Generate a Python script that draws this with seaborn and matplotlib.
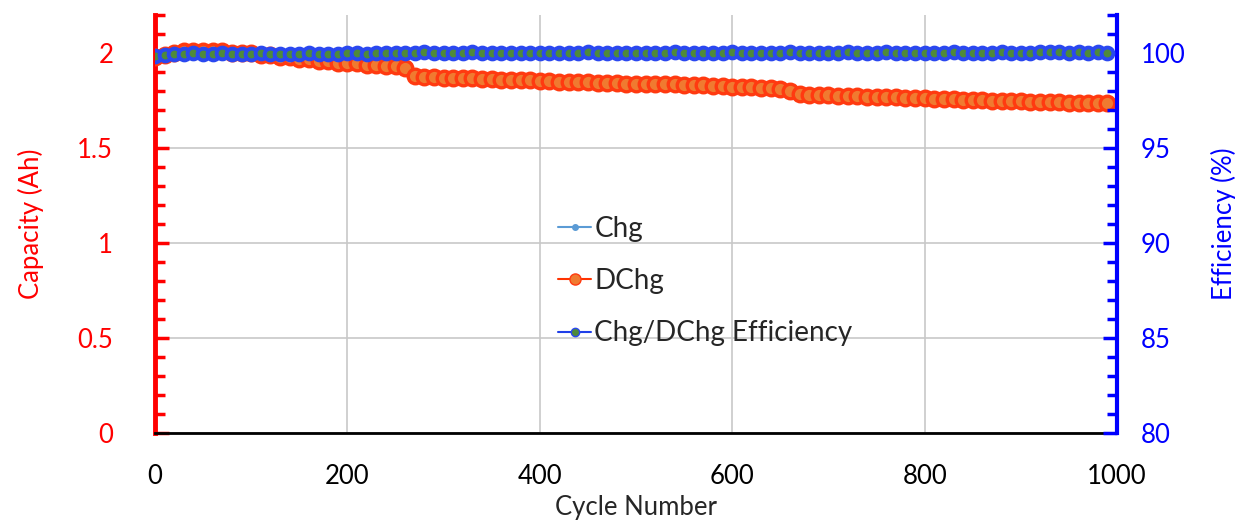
import numpy as np
import pandas as pd
import seaborn as sns
import matplotlib.pyplot as plt
from matplotlib.lines import Line2D
from matplotlib.ticker import MultipleLocator

# cycle numbers (every 10th cycle)
cycles = list(range(0, 1000, 10))

dchg_cap = [
    1.98, 1.99, 2.00, 2.01, 2.01, 2.01, 2.01, 2.01, 2.00, 2.00,
    2.00, 1.99, 1.99, 1.98, 1.98, 1.97, 1.97, 1.96, 1.96, 1.95,
    1.95, 1.95, 1.94, 1.94, 1.93, 1.93, 1.92, 1.88, 1.875, 1.875,
    1.87, 1.87, 1.87, 1.87, 1.865, 1.865, 1.86, 1.86, 1.86, 1.86,
    1.855, 1.855, 1.85, 1.85, 1.85, 1.85, 1.845, 1.845, 1.845, 1.84,
    1.84, 1.84, 1.84, 1.835, 1.835, 1.83, 1.83, 1.83, 1.825, 1.825,
    1.82, 1.82, 1.82, 1.815, 1.815, 1.81, 1.80, 1.785, 1.78, 1.78,
    1.78, 1.775, 1.775, 1.775, 1.77, 1.77, 1.77, 1.77, 1.765, 1.765,
    1.765, 1.76, 1.76, 1.76, 1.755, 1.755, 1.755, 1.75, 1.75, 1.75,
    1.75, 1.745, 1.745, 1.745, 1.745, 1.74, 1.74, 1.74, 1.74, 1.74,
]

chg_cap = [
    1.98, 1.99, 2.00, 2.01, 2.01, 2.01, 2.01, 2.00, 2.00, 2.00,
    2.00, 1.99, 1.99, 1.98, 1.98, 1.97, 1.97, 1.96, 1.96, 1.95,
    1.95, 1.95, 1.94, 1.94, 1.93, 1.93, 1.92, 1.88, 1.875, 1.875,
    1.87, 1.87, 1.87, 1.865, 1.865, 1.865, 1.86, 1.86, 1.86, 1.86,
    1.855, 1.855, 1.85, 1.85, 1.85, 1.85, 1.845, 1.845, 1.84, 1.84,
    1.84, 1.84, 1.84, 1.835, 1.835, 1.83, 1.83, 1.83, 1.825, 1.825,
    1.82, 1.82, 1.82, 1.815, 1.815, 1.81, 1.80, 1.785, 1.78, 1.78,
    1.78, 1.775, 1.775, 1.77, 1.77, 1.77, 1.77, 1.77, 1.765, 1.765,
    1.765, 1.76, 1.76, 1.76, 1.755, 1.755, 1.755, 1.75, 1.75, 1.75,
    1.75, 1.745, 1.745, 1.745, 1.74, 1.74, 1.74, 1.74, 1.74, 1.74,
]

efficiency = [
    99.85, 99.9, 99.95, 99.95, 100.0, 99.95, 99.95, 100.0, 99.95, 99.95,
    99.95, 100.0, 99.95, 99.95, 99.95, 99.95, 100.0, 99.95, 99.95, 99.95,
    100.0, 100.0, 99.95, 100.0, 100.0, 100.0, 100.0, 100.0, 100.05, 100.0,
    100.0, 100.0, 100.0, 100.05, 100.0, 100.0, 100.0, 100.0, 100.0, 100.0,
    100.0, 100.0, 100.0, 100.0, 100.0, 100.05, 100.0, 100.0, 100.0, 100.0,
    100.0, 100.0, 100.0, 100.0, 100.05, 100.0, 100.0, 100.0, 100.0, 100.0,
    100.05, 100.0, 100.0, 100.0, 100.0, 100.0, 100.05, 100.0, 100.0, 100.0,
    100.0, 100.0, 100.05, 100.0, 100.0, 100.0, 100.05, 100.0, 100.0, 100.0,
    100.0, 100.0, 100.0, 100.05, 100.0, 100.0, 100.0, 100.0, 100.05, 100.0,
    100.0, 100.0, 100.05, 100.05, 100.05, 100.0, 100.05, 100.0, 100.05, 100.0,
]

cap_ticks = [0, 0.5, 1, 1.5, 2]
eff_ticks = [80, 85, 90, 95, 100]
x_ticks = [0, 200, 400, 600, 800, 1000]

df = pd.DataFrame({"Cycle": cycles, "Chg": chg_cap, "DChg": dchg_cap,
                   "Eff": efficiency})

sns.set_style("white")
plt.rcParams["font.family"] = ["Lato", "DejaVu Sans"]

fig = plt.figure(figsize=(12.35, 5.22), dpi=100)
ax = fig.add_axes([0.1255, 0.1705, 0.779, 0.8005])
ax2 = ax.twinx()

RED = "#ff0000"
BLUE = "#0000ff"

sns.lineplot(data=df, x="Cycle", y="Chg", ax=ax, color="#5b9bd5",
             marker="o", markersize=4, linewidth=1.5, zorder=2)
sns.lineplot(data=df, x="Cycle", y="DChg", ax=ax, color="#ff3300",
             marker="o", markersize=10.5, markerfacecolor="#f07a30",
             markeredgecolor="#ff3a10", markeredgewidth=2.4,
             linewidth=6, zorder=3)
sns.lineplot(data=df, x="Cycle", y="Eff", ax=ax2, color="#1f3fe8",
             marker="o", markersize=8.5, markerfacecolor="#4f8a3a",
             markeredgecolor="#2a48f0", markeredgewidth=2.8,
             linewidth=6, zorder=3)

ax.set_xlim(0, 1000)
ax.set_ylim(0, 2.2)
ax2.set_ylim(80, 102)
ax.set_xticks(x_ticks)
ax.set_yticks(cap_ticks)
ax.set_yticklabels(["0", "0.5", "1", "1.5", "2"])
ax2.set_yticks(eff_ticks)
ax.xaxis.set_minor_locator(MultipleLocator(40))
ax.yaxis.set_minor_locator(MultipleLocator(0.1))
ax2.yaxis.set_minor_locator(MultipleLocator(1))

ax.grid(True, which="major", color="#c8c8c8", linewidth=1.2)
ax.set_axisbelow(True)
ax2.grid(False)

for a in (ax, ax2):
    a.spines["top"].set_visible(False)
ax.spines["right"].set_visible(False)
ax.spines["left"].set_color(RED)
ax.spines["left"].set_linewidth(3.5)
ax.spines["bottom"].set_color("black")
ax.spines["bottom"].set_linewidth(2)
ax2.spines["left"].set_visible(False)
ax2.spines["bottom"].set_visible(False)
ax2.spines["right"].set_color(BLUE)
ax2.spines["right"].set_linewidth(3)

ax.tick_params(axis="x", which="both", direction="in", colors="black",
               labelsize=18.5, pad=22, width=2)
ax.tick_params(axis="x", which="major", length=9)
ax.tick_params(axis="x", which="minor", length=7)
ax.tick_params(axis="y", which="both", direction="in", colors=RED,
               labelsize=18.5, pad=30, width=2.5)
ax.tick_params(axis="y", which="major", length=10)
ax.tick_params(axis="y", which="minor", length=7)
ax2.tick_params(axis="y", which="both", direction="in", colors=BLUE,
                labelsize=18.5, pad=17, width=2.5)
ax2.tick_params(axis="y", which="major", length=10)
ax2.tick_params(axis="y", which="minor", length=7)

ax.set_xlabel("Cycle Number", fontsize=18.5, labelpad=5)
ax.set_ylabel("Capacity (Ah)", fontsize=18.5, color=RED, labelpad=24)
ax2.set_ylabel("Efficiency (%)", fontsize=18.5, color=BLUE, labelpad=18)

handles = [
    Line2D([], [], color="#5b9bd5", marker="o", markersize=4, linewidth=1.5),
    Line2D([], [], color="#ff3300", marker="o", markersize=8,
           markerfacecolor="#f07a30", markeredgecolor="#ff3a10",
           linewidth=1.5),
    Line2D([], [], color="#1f3fe8", marker="o", markersize=6,
           markerfacecolor="#4f8a3a", markeredgecolor="#2a48f0",
           linewidth=1.5),
]
ax.legend(handles, ["Chg", "DChg", "Chg/DChg Efficiency"],
          loc="upper left", bbox_to_anchor=(0.393, 0.58), frameon=False,
          fontsize=20, handlelength=1.2, handletextpad=0.1,
          labelspacing=0.95)

fig.savefig("out.png", dpi=100)
